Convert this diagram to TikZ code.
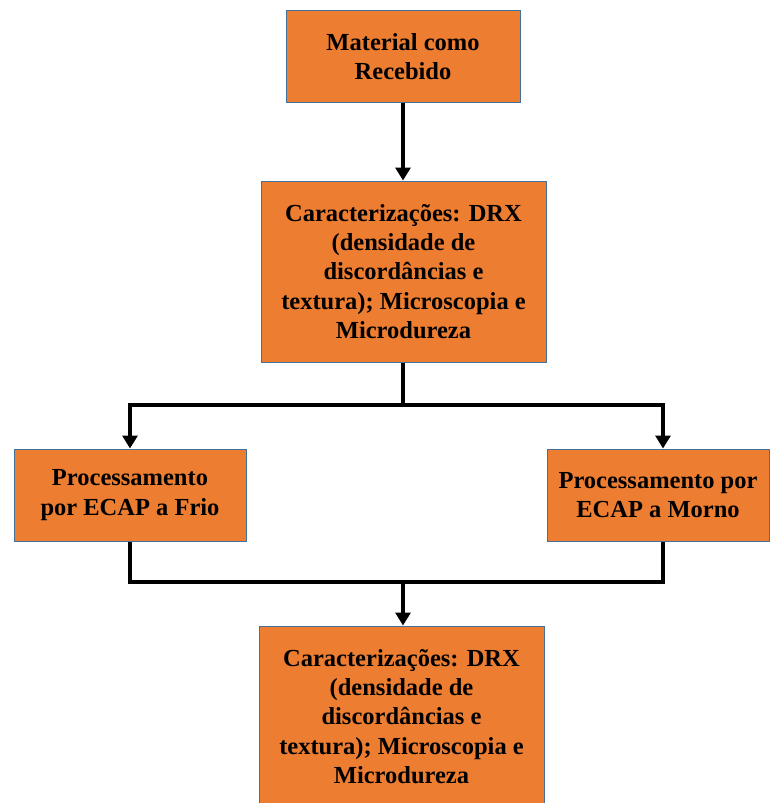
\documentclass[tikz,border=0pt]{standalone}
\usepackage{fontspec}
\setmainfont{Liberation Serif}
\usetikzlibrary{arrows.meta}
\definecolor{laranja}{HTML}{ED7D31}
\definecolor{bordaAzul}{HTML}{41719C}
\begin{document}
\begin{tikzpicture}[
  x=1pt, y=-1pt,
  nodeBox/.style={rectangle, draw=bordaAzul, line width=1pt, fill=laranja, align=center, inner sep=0pt, font=\bfseries\fontsize{24.5}{29.4}\selectfont},
  nodeSmall/.style={nodeBox, minimum height=92pt},
  nodeBig/.style={nodeBox, minimum width=285pt, minimum height=181pt},
  plainLine/.style={draw, line width=4pt},
  arrowLine/.style={plainLine, -{Triangle[width=15pt,length=13pt]}}
  ]
  \useasboundingbox (0,0) rectangle (770,803);
  \node[nodeSmall, minimum width=234pt] (recebido) at (403,56.5) {Material como\\Recebido};
  \node[nodeBig] (carac1) at (403.5,271.5) {Caracterizações: DRX\\(densidade de\\discordâncias e\\textura); Microscopia e\\Microdureza};
  \node[nodeSmall, minimum width=232pt] (frio) at (130,495) {Processamento\\por ECAP a Frio};
  \node[nodeSmall, minimum width=222pt] (morno) at (658,495) {Processamento por\\ECAP a Morno};
  \node[nodeBig] (carac2) at (401.5,716.5) {Caracterizações: DRX\\(densidade de\\discordâncias e\\textura); Microscopia e\\Microdureza};
  \coordinate (juntaSup) at (403,405);
  \coordinate (juntaInf) at (403,582);
  % conexoes
  \draw[arrowLine] (recebido.south) -- (recebido.south |- carac1.north);
  \draw[plainLine] (juntaSup |- carac1.south) -- (juntaSup);
  \draw[arrowLine] (juntaSup) -| (frio.north);
  \draw[arrowLine] (juntaSup) -| ([xshift=5pt]morno.north);
  \draw[plainLine] (frio.south) |- (juntaInf) -| ([xshift=5pt]morno.south);
  \draw[arrowLine] (juntaInf) -- (juntaInf |- carac2.north);
\end{tikzpicture}
\end{document}
